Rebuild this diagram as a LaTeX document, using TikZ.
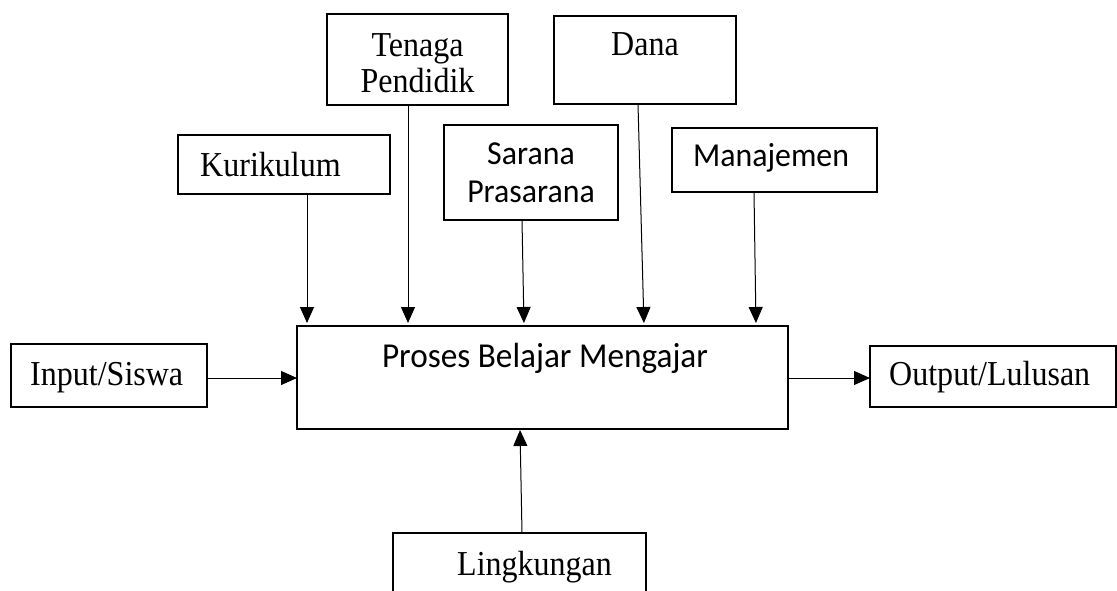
\documentclass[tikz,border=0pt]{standalone}
\usepackage{fontspec}
\setmainfont[FakeStretch=0.915]{Liberation Serif}
\newfontfamily\sansf[FakeStretch=0.95]{Carlito}
\usetikzlibrary{arrows.meta}
\begin{document}
\begin{tikzpicture}[x=1pt,y=-1pt,
  box/.style={draw=black,line width=1.1pt,inner sep=0pt,outer sep=0pt},
  serif/.style={inner sep=0pt,anchor=base,font=\fontsize{35}{37}\selectfont},
  sans/.style={inner sep=0pt,anchor=base,font=\sansf\fontsize{33.5}{37}\selectfont},
  arr/.style={draw=black,line width=1pt,-{Triangle[length=16pt,width=14pt]}}]
\useasboundingbox (0,0) rectangle (1117,591);
\clip (0,0) rectangle (1117,591);
% boxes
\node[box,minimum width=181pt,minimum height=91pt] (tenaga) at (417.5,59.5) {};
\node[box,minimum width=182pt,minimum height=88pt] (dana) at (645,60) {};
\node[box,minimum width=212pt,minimum height=59pt] (kur) at (284,164.5) {};
\node[box,minimum width=174pt,minimum height=95pt] (sarana) at (531,172.5) {};
\node[box,minimum width=205pt,minimum height=64pt] (man) at (774.5,160) {};
\node[box,minimum width=491pt,minimum height=103pt] (pbm) at (542.5,377.5) {};
\node[box,minimum width=196pt,minimum height=63pt] (input) at (109,375.5) {};
\node[box,minimum width=246pt,minimum height=61pt] (output) at (993,376.5) {};
\node[box,minimum width=253pt,minimum height=67pt] (ling) at (519.5,566.5) {};
% texts
\node[serif] (tenagaA) at (417.5,57) {Tenaga};
\node[serif] (tenagaB) at (417.5,93) {Pendidik};
\node[serif] (danaT) at (645,56) {Dana};
\node[serif,anchor=base west] (kurT) at (200,177) {Kurikulum};
\node[sans] (saranaA) at (531,165) {Sarana};
\node[sans] (saranaB) at (531,202) {Prasarana};
\node[sans,anchor=base west] (manT) at (693,167) {Manajemen};
\node[sans,font=\sansf\fontsize{35}{38}\selectfont] (pbmT) at (545,367) {Proses Belajar Mengajar};
\node[serif,anchor=base west] (inputT) at (30,385) {Input/Siswa};
\node[serif,anchor=base west] (outputT) at (889,385) {Output/Lulusan};
\node[serif,anchor=base west] (lingT) at (457,575) {Lingkungan};
% connectors
\draw[arr,shorten >=3pt] ([xshift=23pt]kur.south) -- ([xshift=-235.5pt]pbm.north);
\draw[arr,shorten >=3pt] ([xshift=-9.5pt]tenaga.south) -- ([xshift=-134.5pt]pbm.north);
\draw[arr,shorten >=3pt] ([xshift=-9pt]sarana.south) -- ([xshift=-18.5pt]pbm.north);
\draw[arr,shorten >=3pt] ([xshift=-7pt]dana.south) -- ([xshift=101.5pt]pbm.north);
\draw[arr,shorten >=3pt] ([xshift=-20.5pt]man.south) -- ([xshift=213.5pt]pbm.north);
\draw[arr] ([yshift=-2.5pt]input.east) -- ([yshift=-0.5pt]pbm.west);
\draw[arr] ([yshift=-0.5pt]pbm.east) -- ([yshift=-1.5pt]output.west);
\draw[arr,shorten >=1pt] ([xshift=2.5pt]ling.north) -- ([xshift=-22.5pt]pbm.south);
\end{tikzpicture}
\end{document}
